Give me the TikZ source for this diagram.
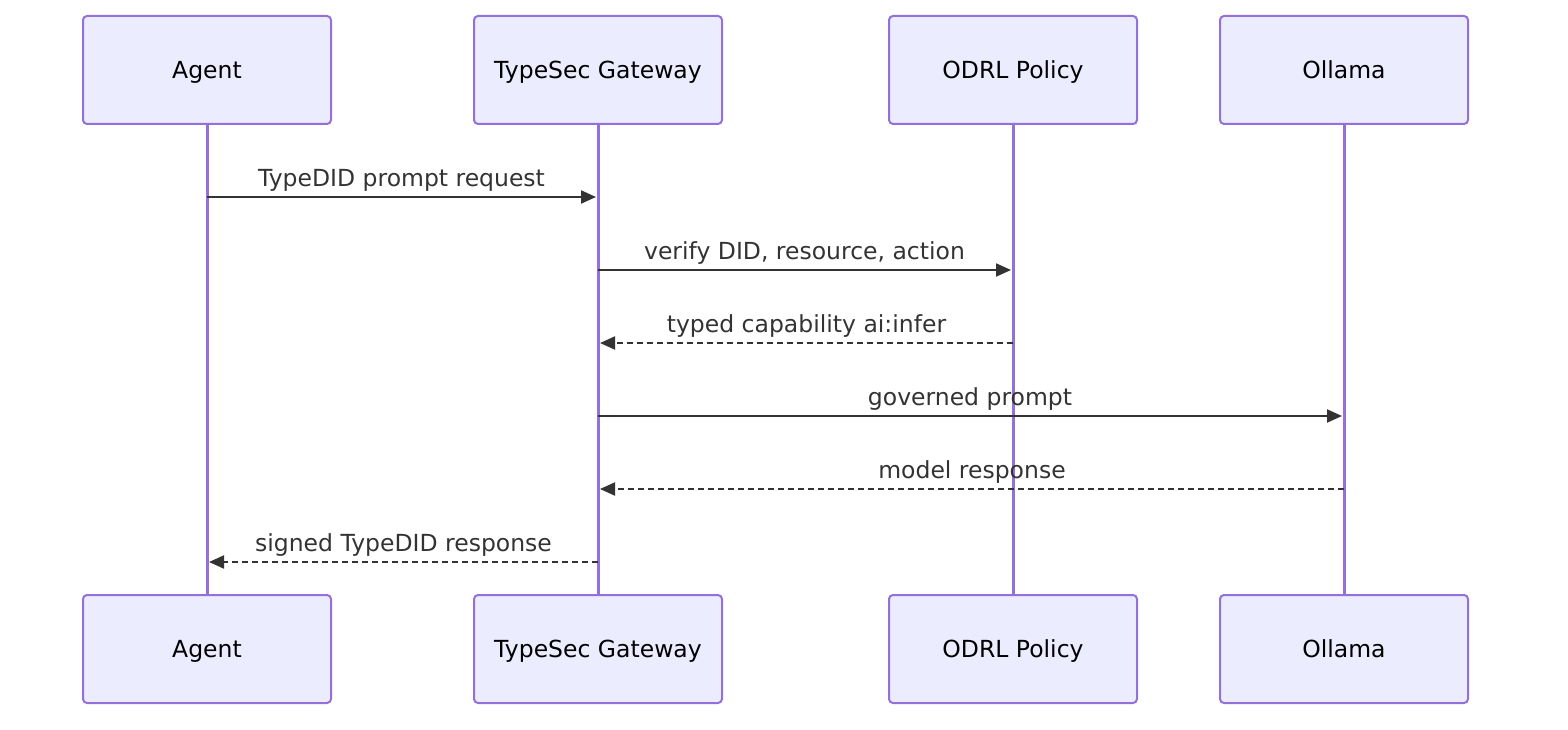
\documentclass[tikz,border=0pt]{standalone}
\usepackage{fontspec}
\setmainfont{DejaVu Sans}
\usetikzlibrary{arrows.meta,calc}
\definecolor{boxfill}{HTML}{ECECFF}
\definecolor{boxline}{HTML}{9370DB}
\definecolor{ink}{HTML}{333333}
\begin{document}
\begin{tikzpicture}[x=1pt,y=-1pt,
  actor/.style={draw=boxline,fill=boxfill,line width=2pt,rounded corners=4pt,minimum width=248pt,minimum height=108pt,font=\fontsize{23.5}{27}\selectfont,text=black,text height=18pt,text depth=1pt},
  life/.style={boxline,line width=3pt},
  msg/.style={ink,line width=2pt,-{Triangle[length=15pt,width=13pt]}},
  rep/.style={msg,dash pattern=on 6pt off 4pt},
  lab/.style={font=\fontsize{23.5}{27}\selectfont,text=ink,above,inner sep=5pt}]
\useasboundingbox (0,0) rectangle (1568,730);
\foreach \n/\x/\t in {a/207/Agent,g/598/TypeSec Gateway,o/1013/ODRL Policy,l/1344/Ollama}{
  \coordinate (\n1) at (\x,124);
  \coordinate (\n2) at (\x,595);
  \draw[life] (\n1) -- (\n2);
  \node[actor] (\n T) at (\x,70) {\t};
  \node[actor] (\n B) at (\x,649) {\t};
}
\foreach \n/\x in {a/207,g/598,o/1013,l/1344}{
  \foreach \k/\y in {1/197,2/270,3/343,4/416,5/489,6/562}{\coordinate (\n m\k) at (\x,\y);}
}
\draw[msg] (am1) -- node[lab]{TypeDID prompt request} ($(gm1)+(-2,0)$);
\draw[msg] (gm2) -- node[lab]{verify DID, resource, action} ($(om2)+(-2,0)$);
\draw[rep] (om3) -- node[lab]{typed capability ai:infer} ($(gm3)+(2,0)$);
\draw[msg] (gm4) -- node[lab]{governed prompt} ($(lm4)+(-2,0)$);
\draw[rep] (lm5) -- node[lab]{model response} ($(gm5)+(2,0)$);
\draw[rep] (gm6) -- node[lab]{signed TypeDID response} ($(am6)+(2,0)$);
\end{tikzpicture}
\end{document}
